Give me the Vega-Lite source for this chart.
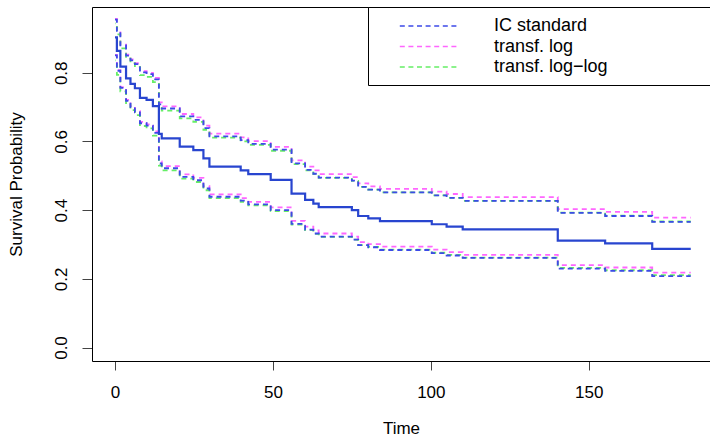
{
  "$schema": "https://vega.github.io/schema/vega-lite/v6.json",
  "width": 618,
  "height": 354,
  "autosize": {"type": "none"},
  "padding": {"left": 92, "top": 7, "right": 0, "bottom": 75},
  "background": "white",
  "config": {
    "view": {"stroke": null},
    "font": "Liberation Sans",
    "axis": {
      "labelFont": "Liberation Sans",
      "titleFont": "Liberation Sans",
      "labelFontSize": 17,
      "titleFontSize": 17,
      "labelColor": "black",
      "titleColor": "black",
      "titleFontWeight": "normal",
      "grid": false,
      "domainColor": "black",
      "tickColor": "#444444",
      "domainWidth": 1,
      "tickWidth": 1
    }
  },
  "data": {
    "values": [
      {"t": 0, "S": 0.903, "lo": 0.851, "hi": 0.955, "loglo": 0.852, "loghi": 0.957, "lllo": 0.836, "llhi": 0.944},
      {"t": 0.6, "S": 0.864, "lo": 0.806, "hi": 0.922, "loglo": 0.808, "loghi": 0.924, "lllo": 0.794, "llhi": 0.912},
      {"t": 1.7, "S": 0.818, "lo": 0.756, "hi": 0.880, "loglo": 0.758, "loghi": 0.882, "lllo": 0.746, "llhi": 0.871},
      {"t": 3.5, "S": 0.784, "lo": 0.718, "hi": 0.850, "loglo": 0.721, "loghi": 0.853, "lllo": 0.709, "llhi": 0.842},
      {"t": 4.9, "S": 0.768, "lo": 0.700, "hi": 0.836, "loglo": 0.703, "loghi": 0.839, "lllo": 0.691, "llhi": 0.828},
      {"t": 6.3, "S": 0.755, "lo": 0.685, "hi": 0.825, "loglo": 0.688, "loghi": 0.828, "lllo": 0.677, "llhi": 0.817},
      {"t": 7.9, "S": 0.727, "lo": 0.653, "hi": 0.801, "loglo": 0.657, "loghi": 0.805, "lllo": 0.645, "llhi": 0.793},
      {"t": 10.0, "S": 0.721, "lo": 0.646, "hi": 0.796, "loglo": 0.650, "loghi": 0.800, "lllo": 0.638, "llhi": 0.788},
      {"t": 12.0, "S": 0.703, "lo": 0.625, "hi": 0.781, "loglo": 0.629, "loghi": 0.785, "lllo": 0.617, "llhi": 0.773},
      {"t": 13.9, "S": 0.622, "lo": 0.536, "hi": 0.708, "loglo": 0.542, "loghi": 0.714, "lllo": 0.530, "llhi": 0.702},
      {"t": 14.8, "S": 0.609, "lo": 0.522, "hi": 0.696, "loglo": 0.528, "loghi": 0.702, "lllo": 0.516, "llhi": 0.690},
      {"t": 20.5, "S": 0.585, "lo": 0.497, "hi": 0.673, "loglo": 0.504, "loghi": 0.680, "lllo": 0.492, "llhi": 0.667},
      {"t": 24.8, "S": 0.575, "lo": 0.487, "hi": 0.663, "loglo": 0.494, "loghi": 0.670, "lllo": 0.482, "llhi": 0.657},
      {"t": 28.0, "S": 0.551, "lo": 0.463, "hi": 0.639, "loglo": 0.470, "loghi": 0.646, "lllo": 0.458, "llhi": 0.634},
      {"t": 29.9, "S": 0.527, "lo": 0.439, "hi": 0.615, "loglo": 0.446, "loghi": 0.623, "lllo": 0.435, "llhi": 0.611},
      {"t": 39.8, "S": 0.516, "lo": 0.428, "hi": 0.604, "loglo": 0.435, "loghi": 0.612, "lllo": 0.424, "llhi": 0.600},
      {"t": 42.2, "S": 0.505, "lo": 0.417, "hi": 0.593, "loglo": 0.424, "loghi": 0.601, "lllo": 0.414, "llhi": 0.590},
      {"t": 49.3, "S": 0.488, "lo": 0.400, "hi": 0.576, "loglo": 0.408, "loghi": 0.584, "lllo": 0.397, "llhi": 0.573},
      {"t": 55.9, "S": 0.448, "lo": 0.360, "hi": 0.536, "loglo": 0.369, "loghi": 0.545, "lllo": 0.358, "llhi": 0.534},
      {"t": 60.2, "S": 0.430, "lo": 0.343, "hi": 0.517, "loglo": 0.352, "loghi": 0.527, "lllo": 0.342, "llhi": 0.516},
      {"t": 62.8, "S": 0.419, "lo": 0.332, "hi": 0.506, "loglo": 0.341, "loghi": 0.516, "lllo": 0.331, "llhi": 0.505},
      {"t": 64.5, "S": 0.409, "lo": 0.323, "hi": 0.495, "loglo": 0.332, "loghi": 0.505, "lllo": 0.322, "llhi": 0.494},
      {"t": 75.0, "S": 0.400, "lo": 0.314, "hi": 0.486, "loglo": 0.323, "loghi": 0.496, "lllo": 0.314, "llhi": 0.485},
      {"t": 77.0, "S": 0.383, "lo": 0.298, "hi": 0.468, "loglo": 0.307, "loghi": 0.478, "lllo": 0.298, "llhi": 0.468},
      {"t": 80.2, "S": 0.376, "lo": 0.292, "hi": 0.460, "loglo": 0.301, "loghi": 0.469, "lllo": 0.293, "llhi": 0.460},
      {"t": 83.9, "S": 0.368, "lo": 0.284, "hi": 0.452, "loglo": 0.294, "loghi": 0.462, "lllo": 0.285, "llhi": 0.452},
      {"t": 100.3, "S": 0.359, "lo": 0.275, "hi": 0.443, "loglo": 0.285, "loghi": 0.454, "lllo": 0.276, "llhi": 0.443},
      {"t": 105.0, "S": 0.352, "lo": 0.268, "hi": 0.436, "loglo": 0.278, "loghi": 0.447, "lllo": 0.270, "llhi": 0.436},
      {"t": 110.1, "S": 0.344, "lo": 0.261, "hi": 0.427, "loglo": 0.270, "loghi": 0.438, "lllo": 0.262, "llhi": 0.427},
      {"t": 140.2, "S": 0.311, "lo": 0.230, "hi": 0.392, "loglo": 0.240, "loghi": 0.403, "lllo": 0.232, "llhi": 0.393},
      {"t": 155.2, "S": 0.303, "lo": 0.223, "hi": 0.383, "loglo": 0.233, "loghi": 0.395, "lllo": 0.225, "llhi": 0.384},
      {"t": 170.1, "S": 0.287, "lo": 0.208, "hi": 0.366, "loglo": 0.218, "loghi": 0.378, "lllo": 0.211, "llhi": 0.367},
      {"t": 182.3, "S": 0.287, "lo": 0.208, "hi": 0.366, "loglo": 0.218, "loghi": 0.378, "lllo": 0.211, "llhi": 0.367}
    ]
  },
  "resolve": {"axis": {"x": "independent"}},
  "layer": [
    {
      "encoding": {
        "x": {
          "field": "t", "type": "quantitative",
          "scale": {"domain": [-7.28, 188.4], "nice": false, "zero": false},
          "axis": {"orient": "bottom", "values": [0, 50, 100, 150], "title": "Time", "tickSize": 9, "labelPadding": 14, "titleY": 72, "titleBaseline": "alphabetic", "domain": true}
        },
        "y": {
          "field": "v", "type": "quantitative",
          "scale": {"domain": [-0.0393, 0.9916], "nice": false, "zero": false},
          "axis": {"values": [0, 0.2, 0.4, 0.6, 0.8], "format": ".1f", "title": "Survival Probability", "tickSize": 10, "labelAngle": -90, "labelAlign": "center", "labelBaseline": "alphabetic", "labelPadding": 16, "titleX": -70.5, "titleY": 177, "titleAngle": -90, "titleAlign": "center", "titleBaseline": "alphabetic"}
        },
        "detail": {"field": "bound", "type": "nominal"},
        "color": {
          "type": "nominal",
          "scale": {"domain": ["IC standard", "transf. log", "transf. log−log"], "range": ["#3D4AE8", "#FF66FF", "#66EE66"]},
          "legend": {
            "orient": "none", "legendX": 276, "legendY": 0,
            "title": " ", "titleOrient": "right", "titlePadding": 110,
            "padding": 9, "strokeColor": "black", "fillColor": "white",
            "symbolType": "M-3.3,0H3.3", "symbolSize": 324, "symbolStrokeWidth": 1.4,
            "symbolDash": [5, 3.6], "symbolOffset": 42.5, "labelOffset": 54.5,
            "rowPadding": 1.5, "labelFontSize": 18, "labelFont": "Liberation Sans",
            "labelColor": "black", "labelLimit": 0
          }
        }
      },
      "layer": [
        {
          "transform": [{"fold": ["loglo", "loghi"], "as": ["bound", "v"]}],
          "mark": {"type": "line", "interpolate": "step-after", "strokeDash": [5, 4], "strokeWidth": 1.8},
          "encoding": {"color": {"datum": "transf. log", "type": "nominal"}}
        },
        {
          "transform": [{"fold": ["lllo", "llhi"], "as": ["bound", "v"]}],
          "mark": {"type": "line", "interpolate": "step-after", "strokeDash": [5, 4], "strokeDashOffset": 4.5, "strokeWidth": 1.8},
          "encoding": {"color": {"datum": "transf. log−log", "type": "nominal"}}
        },
        {
          "transform": [{"fold": ["lo", "hi"], "as": ["bound", "v"]}],
          "mark": {"type": "line", "interpolate": "step-after", "strokeDash": [5, 4], "strokeWidth": 1.8},
          "encoding": {"color": {"datum": "IC standard", "type": "nominal"}}
        }
      ]
    },
    {
      "mark": {"type": "line", "interpolate": "step-after", "color": "#2845CF", "strokeWidth": 2.2},
      "encoding": {
        "x": {
          "field": "t", "type": "quantitative",
          "scale": {"domain": [-7.28, 188.4], "nice": false, "zero": false},
          "axis": {"orient": "top", "labels": false, "ticks": false, "title": null, "domain": true}
        },
        "y": {
          "field": "S", "type": "quantitative",
          "scale": {"domain": [-0.0393, 0.9916], "nice": false, "zero": false},
          "axis": {"values": [0, 0.2, 0.4, 0.6, 0.8], "format": ".1f", "title": "Survival Probability", "tickSize": 10, "labelAngle": -90, "labelAlign": "center", "labelBaseline": "alphabetic", "labelPadding": 16, "titleX": -70.5, "titleY": 177, "titleAngle": -90, "titleAlign": "center", "titleBaseline": "alphabetic"}
        }
      }
    }
  ]
}
